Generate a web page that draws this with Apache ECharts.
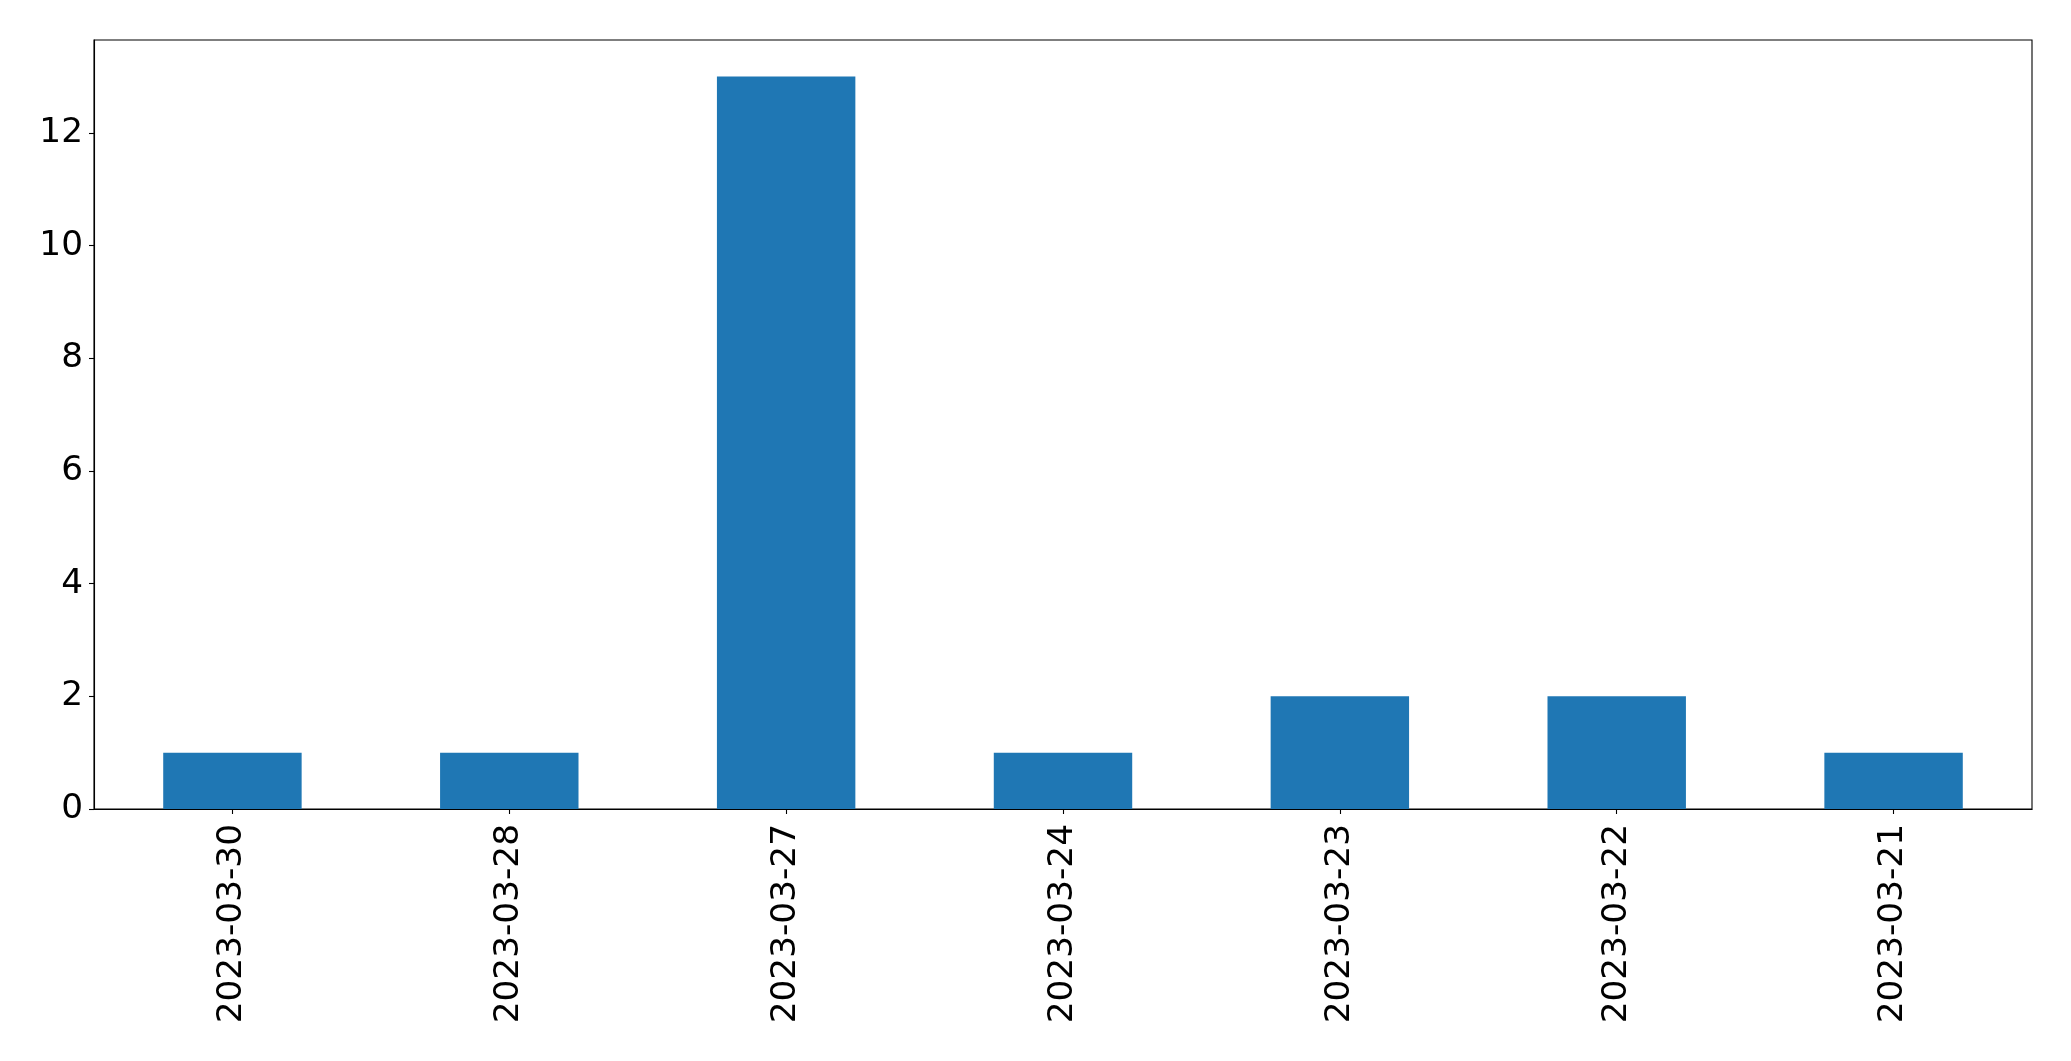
<!DOCTYPE html>
<html>
<head>
<meta charset="utf-8">
<script src="https://cdn.jsdelivr.net/npm/echarts@6/dist/echarts.min.js"></script>
<style>
html,body{margin:0;padding:0;background:#fff;}
#chart{width:2071px;height:1061px;}
</style>
</head>
<body>
<div id="chart"></div>
<script>
const categories = ['2023-03-30','2023-03-28','2023-03-27','2023-03-24','2023-03-23','2023-03-22','2023-03-21'];
const counts = [1, 1, 13, 1, 2, 2, 1];
const yTicks = [0, 2, 4, 6, 8, 10, 12];

const chart = echarts.init(document.getElementById('chart'), null, {renderer: 'canvas'});
const font = 'DejaVu Sans';
chart.setOption({
  animation: false,
  backgroundColor: '#ffffff',
  grid: {
    left: 94, right: 39, top: 40, bottom: 252,
    show: true, borderColor: '#000', borderWidth: 1.1, backgroundColor: 'transparent',
    containLabel: false
  },
  xAxis: {
    type: 'category',
    data: categories,
    axisLine: {show: true, lineStyle: {color: '#000', width: 1.1}},
    axisTick: {show: true, alignWithLabel: true, length: 5, lineStyle: {color: '#000', width: 1.1}},
    axisLabel: {rotate: 90, fontFamily: font, fontSize: 34.3, color: '#000', margin: 15, interval: 0},
    splitLine: {show: false}
  },
  yAxis: {
    type: 'value',
    min: 0, max: 13.65,
    interval: 2,
    axisLine: {show: true, lineStyle: {color: '#000', width: 1.1}},
    axisTick: {show: true, length: 5, lineStyle: {color: '#000', width: 1.1}, customValues: yTicks},
    axisLabel: {fontFamily: font, fontSize: 34.3, color: '#000', margin: 11, customValues: yTicks},
    splitLine: {show: false}
  },
  series: [{
    type: 'bar',
    data: counts,
    barWidth: '50%',
    itemStyle: {color: '#1f77b4'}
  }]
});
</script>
</body>
</html>
